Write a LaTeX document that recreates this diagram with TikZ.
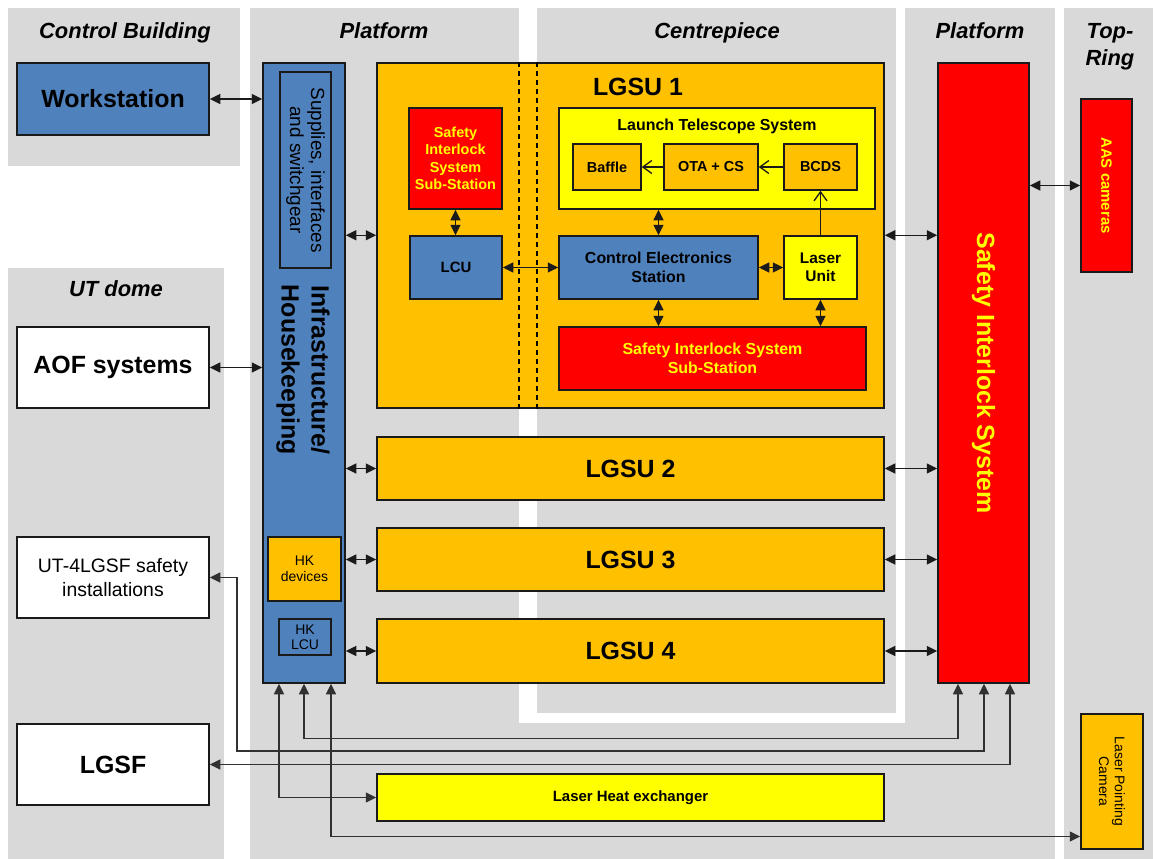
\documentclass[tikz,border=0pt]{standalone}
\usepackage{fontspec}
\setmainfont{Liberation Sans}
\usetikzlibrary{arrows.meta}

\definecolor{zonegray}{HTML}{D9D9D9}
\definecolor{unitblue}{HTML}{4F81BD}
\definecolor{unitorange}{HTML}{FFC000}
\definecolor{unityellow}{HTML}{FFFF00}
\definecolor{unitred}{HTML}{FF0000}
\definecolor{edgeink}{HTML}{1A1A1A}

\newcommand\setfs[2]{\fontsize{#1}{#2}\selectfont}

\begin{document}
\begin{tikzpicture}[x=1bp,y=-1bp,
  box/.style={draw=edgeink, line width=1.5bp, inner sep=0pt, align=center, text=black},
  bluebox/.style={box, fill=unitblue},
  orangebox/.style={box, fill=unitorange},
  yellowbox/.style={box, fill=unityellow},
  redbox/.style={box, fill=unitred, text=unityellow},
  whitebox/.style={box, fill=white},
  zonehead/.style={font=\setfs{22}{27}\bfseries\itshape, align=center, inner sep=0pt, anchor=base},
  bigtxt/.style={font=\setfs{25}{30}\bfseries},
  midtxt/.style={font=\setfs{16}{19}\bfseries},
  smalltxt/.style={font=\setfs{14.5}{17.5}\bfseries},
  link/.style={draw=edgeink, line width=1.5bp, {Triangle[length=10.5bp,width=10bp]}-{Triangle[length=10.5bp,width=10bp]}},
  longlink/.style={draw=edgeink!90, line width=1.3bp, {Triangle[length=10.5bp,width=10bp]}-{Triangle[length=10.5bp,width=10bp]}},
  beam/.style={draw=edgeink, line width=1.3bp, -{Straight Barb[length=9bp,width=13bp]}},
  gapline/.style={draw=black, line width=1.3bp, dash pattern=on 5bp off 4bp}
]
\useasboundingbox (0,0) rectangle (1153,859);
\fill[white] (0,0) rectangle (1153,859);

% ---- zones ----
\fill[zonegray] (8,8) rectangle (240,166);      % control building
\fill[zonegray] (8,268) rectangle (224,859);    % UT dome
\fill[zonegray] (250,8) rectangle (1055,859);   % platform
\fill[white] (519,8) rectangle (905,723);
\fill[zonegray] (537,8) rectangle (896,713);    % centrepiece
\fill[zonegray] (1064,8) rectangle (1153,859);  % top ring

\node[zonehead] (hcb) at (125,38) {Control Building};
\node[zonehead] (hpl) at (384,38) {Platform};
\node[zonehead] (hcp) at (717,38) {Centrepiece};
\node[zonehead] (hpr) at (980,38) {Platform};
\node[zonehead] (htr1) at (1110,38) {Top-};
\node[zonehead] (htr2) at (1110,65) {Ring};
\node[zonehead] (hut) at (116,296) {UT dome};

% ---- left column ----
\node[bluebox, bigtxt, minimum width=192bp, minimum height=72bp] (ws) at (113,99) {Workstation};
\node[whitebox, bigtxt, minimum width=192bp, minimum height=81bp] (aof) at (113,367.5) {AOF systems};
\node[whitebox, font=\setfs{19.5}{24}, minimum width=192bp, minimum height=81bp] (ut4) at (113,577.5) {UT-4LGSF safety\\installations};
\node[whitebox, bigtxt, minimum width=192bp, minimum height=81bp] (lgsf) at (113,764.5) {LGSF};

% ---- infrastructure ----
\node[bluebox, minimum width=82bp, minimum height=620bp] (infra) at (304,373) {};
\node[bigtxt, rotate=-90, align=center, inner sep=0pt] (infratxt) at (303,370) {Infrastructure/\\Housekeeping};
\node[bluebox, minimum width=51bp, minimum height=196bp] (supp) at (305.5,170) {};
\node[font=\setfs{19}{21}, rotate=-90, align=center, inner sep=0pt] (supptxt) at (supp.center) {Supplies, interfaces\\and switchgear};
\node[orangebox, font=\setfs{14}{16}, minimum width=73bp, minimum height=64bp] (hkd) at (304.5,569) {HK\\devices};
\node[bluebox, font=\setfs{14}{15.5}, minimum width=52bp, minimum height=36bp] (hklcu) at (305,637) {HK\\LCU};

% ---- LGSU 1 ----
\node[orangebox, minimum width=507bp, minimum height=345bp] (lgsu1) at (630.5,235.5) {};
\draw[gapline] (519,0 |- lgsu1.north) -- (519,0 |- lgsu1.south);
\draw[gapline] (537,0 |- lgsu1.north) -- (537,0 |- lgsu1.south);
\node[bigtxt, inner sep=0pt] (lgsu1txt) at (638,87) {LGSU 1};

\node[redbox, smalltxt, minimum width=93bp, minimum height=101bp] (sisss1) at (455.5,158.5) {Safety\\Interlock\\System\\Sub-Station};
\node[bluebox, font=\setfs{15}{18}\bfseries, minimum width=92bp, minimum height=63bp] (lcu) at (456,267.5) {LCU};

\node[yellowbox, minimum width=316bp, minimum height=101bp] (lts) at (717,158.5) {};
\node[midtxt, inner sep=0pt] (ltstxt) at ([yshift=-19bp]lts.north) {Launch Telescope System};
\node[orangebox, smalltxt, minimum width=68bp, minimum height=46bp] (baffle) at (607,167) {Baffle};
\node[orangebox, smalltxt, minimum width=94bp, minimum height=46bp] (ota) at (711,167) {OTA + CS};
\node[orangebox, smalltxt, minimum width=73bp, minimum height=46bp] (bcds) at (820.5,167) {BCDS};

\node[bluebox, midtxt, minimum width=199bp, minimum height=63bp] (ces) at (658.5,267.5) {Control Electronics\\Station};
\node[yellowbox, font=\setfs{15.5}{18}\bfseries, minimum width=73bp, minimum height=63bp] (laser) at (820.5,267.5) {Laser\\Unit};
\node[redbox, midtxt, minimum width=307bp, minimum height=63bp] (sisss2) at (712.5,358.5) {Safety Interlock System\\Sub-Station};

% ---- other LGSUs and heat exchanger ----
\node[orangebox, bigtxt, minimum width=507bp, minimum height=63bp] (lgsu2) at (630.5,468.5) {LGSU 2};
\node[orangebox, bigtxt, minimum width=507bp, minimum height=63bp] (lgsu3) at (630.5,559.5) {LGSU 3};
\node[orangebox, bigtxt, minimum width=507bp, minimum height=64bp] (lgsu4) at (630.5,651) {LGSU 4};
\node[yellowbox, font=\setfs{15}{18}\bfseries, minimum width=507bp, minimum height=47bp] (lhx) at (630.5,797.5) {Laser Heat exchanger};

% ---- right side ----
\node[redbox, minimum width=91bp, minimum height=620bp] (sis) at (983.5,373) {};
\node[bigtxt, text=unityellow, rotate=-90, inner sep=0pt] (sistxt) at (sis.center) {Safety Interlock System};
\node[redbox, minimum width=51bp, minimum height=173bp] (aas) at (1106.5,185.5) {};
\node[font=\setfs{15}{18}\bfseries, text=unityellow, rotate=-90, inner sep=0pt] (aastxt) at (aas.center) {AAS cameras};
\node[orangebox, minimum width=62bp, minimum height=135bp] (lpc) at (1112,781.5) {};
\node[font=\setfs{14}{16}, rotate=-90, align=center, inner sep=0pt] (lpctxt) at (lpc.center) {Laser Pointing\\Camera};

% ---- links between zones ----
\draw[link] (ws.east) -- (ws.east -| infra.west);
\draw[link] (aof.east) -- (aof.east -| infra.west);
\draw[link] (infra.east |- lcu.north) -- (lgsu1.west |- lcu.north);
\draw[link] (infra.east |- lgsu2.west) -- (lgsu2.west);
\draw[link] (infra.east |- lgsu3.west) -- (lgsu3.west);
\draw[link] (infra.east |- lgsu4.west) -- (lgsu4.west);
\draw[link] (lgsu1.east |- lcu.north) -- (sis.west |- lcu.north);
\draw[link] (lgsu2.east) -- (sis.west |- lgsu2.east);
\draw[link] (lgsu3.east) -- (sis.west |- lgsu3.east);
\draw[link] (lgsu4.east) -- (sis.west |- lgsu4.east);
\draw[link] (aas.west) -- (aas.west -| sis.east);

% ---- links inside LGSU 1 ----
\draw[link] (sisss1.south) -- (sisss1.south |- lcu.north);
\draw[link] (lcu.east) -- (lcu.east -| ces.west);
\draw[link] (ces.north) -- (ces.north |- lts.south);
\draw[link] (ces.east) -- (laser.west);
\draw[link] (ces.south) -- (ces.south |- sisss2.north);
\draw[link] (laser.south) -- (laser.south |- sisss2.north);
\draw[beam] (laser.north) -- (bcds.south);
\draw[beam] (bcds.west) -- (ota.east);
\draw[beam] (ota.west) -- (baffle.east);

% ---- cabling along the platform floor ----
\coordinate (infraA) at ([xshift=-25bp]infra.south);
\coordinate (infraB) at (infra.south);
\coordinate (infraC) at ([xshift=27bp]infra.south);
\coordinate (sisA) at ([xshift=-25.5bp]sis.south);
\coordinate (sisB) at ([xshift=0.5bp]sis.south);
\coordinate (sisC) at ([xshift=26.5bp]sis.south);
\coordinate (utbend) at (237,751);

\draw[longlink] (infraA) |- (lhx.west);
\draw[longlink] (infraB) -- ++(0,55) -| (sisA);
\draw[longlink] (ut4.east) -| (utbend) -| (sisB);
\draw[longlink] (lgsf.east) -| (sisC);
\draw[longlink] (infraC) |- ([yshift=-55bp]lpc.west);
\end{tikzpicture}
\end{document}
